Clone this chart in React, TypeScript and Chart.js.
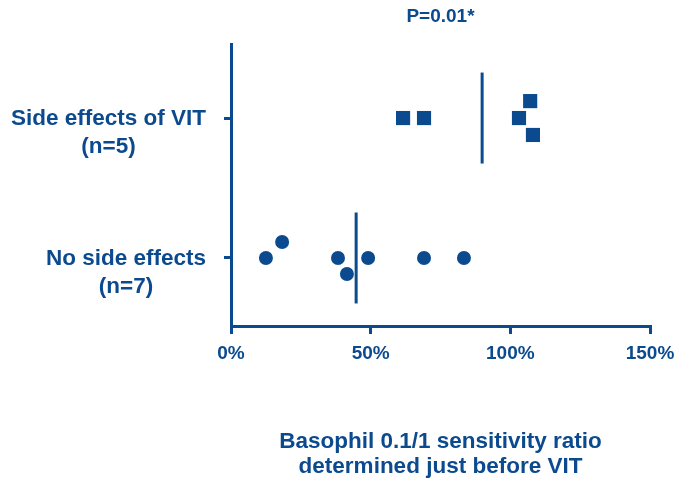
import React, { useEffect, useRef } from "react";
import { Chart, registerables } from "chart.js";

Chart.register(...registerables);

const INK = "#0B4A8E";
const FONT = "'Liberation Sans', Arial, sans-serif";

// Group rows on the y axis (0 = bottom row, 1 = top row)
const groupLabels = [
  ["No side effects", "(n=7)"],
  ["Side effects of VIT", "(n=5)"],
];
const groupRows = [0, 1];

// Basophil 0.1/1 sensitivity ratio (%) per patient
const noSideEffectsValues = [12.5, 18.3, 38.3, 41.5, 49.1, 69.1, 83.4];
const noSideEffectsOffset = [0, 0.114, 0, -0.114, 0, 0, 0];
const sideEffectsValues = [61.6, 69.1, 103.1, 107.1, 108.1];
const sideEffectsOffset = [0, 0, 0, 0.121, -0.121];

// Group means
const groupMeans = [44.8, 89.9];
const meanHalfHeight = 0.325;

const xTicks = [0, 50, 100, 150];
const xTitle = ["Basophil 0.1/1 sensitivity ratio", "determined just before VIT"];
const pValueText = "P=0.01*";

const yMin = -0.486;
const yMax = 1.529;

const textPlugin = {
  id: "textPlugin",
  afterDraw(chart: any) {
    const { ctx, chartArea, scales } = chart;
    const y = scales.y;
    const cx = (chartArea.left + chartArea.right) / 2;
    ctx.save();
    ctx.fillStyle = INK;
    ctx.font = `bold 22.5px ${FONT}`;
    ctx.textBaseline = "middle";
    groupRows.forEach((row, i) => {
      const py = y.getPixelForValue(row);
      const right = chartArea.left - 25;
      const w = ctx.measureText(groupLabels[i][0]).width;
      ctx.textAlign = "center";
      ctx.fillText(groupLabels[i][0], right - w / 2, py + 1);
      ctx.fillText(groupLabels[i][1], right - w / 2, py + 29);
    });
    ctx.fillText(xTitle[0], cx, 442);
    ctx.fillText(xTitle[1], cx, 467);
    ctx.font = `bold 19px ${FONT}`;
    ctx.fillText(pValueText, cx, 17);
    ctx.restore();
  },
};

export default function App() {
  const ref = useRef<HTMLCanvasElement | null>(null);
  useEffect(() => {
    if (!ref.current) return;
    const meanSets = groupMeans.map((m, i) => ({
      type: "line" as const,
      data: [
        { x: m, y: groupRows[i] - meanHalfHeight },
        { x: m, y: groupRows[i] + meanHalfHeight },
      ],
      borderColor: INK,
      borderWidth: 3,
      pointRadius: 0,
      fill: false,
    }));
    const chart = new Chart(ref.current, {
      type: "scatter",
      data: {
        datasets: [
          {
            data: noSideEffectsValues.map((v, i) => ({ x: v, y: groupRows[0] + noSideEffectsOffset[i] })),
            pointStyle: "circle",
            pointRadius: 7,
            backgroundColor: INK,
            borderWidth: 0,
          },
          {
            data: sideEffectsValues.map((v, i) => ({ x: v, y: groupRows[1] + sideEffectsOffset[i] })),
            pointStyle: "rect",
            pointRadius: 10,
            backgroundColor: INK,
            borderWidth: 0,
          },
          ...meanSets,
        ] as any,
      },
      options: {
        animation: false,
        responsive: false,
        layout: { padding: { left: 224, top: 44, right: 26, bottom: 0 } },
        plugins: { legend: { display: false }, tooltip: { enabled: false } },
        scales: {
          x: {
            type: "linear",
            min: 0,
            max: 150,
            afterBuildTicks: (s: any) => {
              s.ticks = xTicks.map((v) => ({ value: v }));
            },
            afterFit: (s: any) => {
              s.height = 156;
              s.paddingLeft = 0;
              s.paddingRight = 0;
            },
            grid: { drawOnChartArea: false, tickLength: 8, color: INK, lineWidth: 3 },
            border: { color: INK, width: 3 },
            ticks: {
              color: INK,
              font: { family: FONT, size: 19, weight: "bold" },
              padding: 8,
              maxRotation: 0,
              callback: (v: any) => `${v}%`,
            },
          },
          y: {
            type: "linear",
            min: yMin,
            max: yMax,
            afterBuildTicks: (s: any) => {
              s.ticks = groupRows.map((v) => ({ value: v }));
            },
            afterFit: (s: any) => {
              s.width = 7;
            },
            grid: { drawOnChartArea: false, tickLength: 7, color: INK, lineWidth: 3 },
            border: { color: INK, width: 3 },
            ticks: { display: false },
          },
        },
      } as any,
      plugins: [textPlugin],
    });
    return () => chart.destroy();
  }, []);
  return (
    <div style={{ position: "fixed", left: 0, top: 0, width: 676, height: 482, background: "#fff" }}>
      <canvas ref={ref} width={676} height={482} />
    </div>
  );
}
